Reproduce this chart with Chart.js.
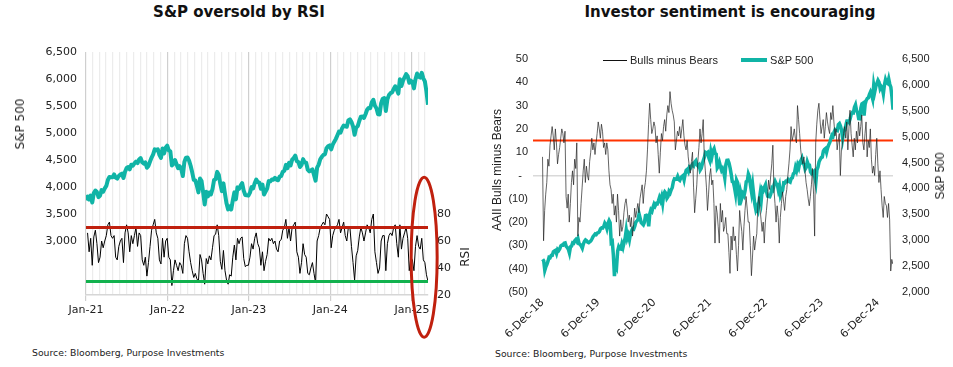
<!DOCTYPE html>
<html>
<head>
<meta charset="utf-8">
<title>S&amp;P oversold by RSI / Investor sentiment</title>
<script src="https://cdn.jsdelivr.net/npm/chart.js@4.4.1/dist/chart.umd.min.js"></script>
<style>
  body { margin:0; background:#fff; width:953px; height:367px; position:relative; overflow:hidden; font-family:'DejaVu Sans', sans-serif; color:#111; }
  canvas { position:absolute; top:0; }
  .title { position:absolute; top:3px; font-weight:bold; font-size:15px; text-align:center; white-space:nowrap; }
  .src { position:absolute; font-size:9.3px; color:#222; white-space:nowrap; }
  .ytitle { position:absolute; transform:translate(-50%,-50%) rotate(-90deg); white-space:nowrap; font-size:12px; color:#222; }
  #legend { position:absolute; left:603px; top:53px; height:14px; display:flex; align-items:center; font:11px 'Liberation Sans', Arial, sans-serif; color:#222; }
  #legend .sw { display:inline-block; }
</style>
</head>
<body>
<div class="title" style="left:0; width:478px;">S&amp;P oversold by RSI</div>
<div class="title" style="left:530px; width:400px;">Investor sentiment is encouraging</div>

<canvas id="rsiChart" width="480" height="345" style="left:0;"></canvas>
<canvas id="sentChart" width="473" height="345" style="left:480px;"></canvas>

<div class="ytitle" style="left:20px; top:124px;">S&amp;P 500</div>
<div class="ytitle" style="left:465px; top:257px;">RSI</div>
<div class="ytitle" style="left:497px; top:170px; font-family:'Liberation Sans', Arial, sans-serif;">AAII Bulls minus Bears</div>
<div class="ytitle" style="left:940px; top:176px; font-family:'Liberation Sans', Arial, sans-serif;">S&amp;P 500</div>

<div id="legend"></div>

<div class="src" style="left:32px; top:347px;">Source: Bloomberg, Purpose Investments</div>
<div class="src" style="left:495px; top:348px;">Source: Bloomberg, Purpose Investments</div>

<script>
'use strict';

// weekly S&P 500 closes, first week ends 7-Dec-18
var spxStart = Date.UTC(2018, 11, 7);
var spx = [
  2633, 2600, 2417, 2486,
  // 2019
  2532, 2596, 2671, 2665, 2707, 2708, 2776, 2793, 2804, 2743, 2822, 2801, 2834,
  2893, 2907, 2905, 2940, 2946, 2881, 2860, 2826, 2752, 2873, 2887, 2950, 2942,
  2990, 3014, 2977, 3026, 2932, 2919, 2889, 2847, 2926, 2979, 3007, 2992, 2962,
  2952, 2970, 2986, 3023, 3067, 3093, 3120, 3110, 3141, 3146, 3169, 3221, 3240,
  // 2020
  3235, 3265, 3330, 3295, 3226, 3328, 3380, 3338, 2954, 2972, 2711, 2305, 2541,
  2489, 2790, 2875, 2837, 2831, 2930, 2864, 2955, 3044, 3194, 3041, 3098, 3009,
  3130, 3185, 3225, 3216, 3271, 3351, 3373, 3397, 3508, 3427, 3341, 3319, 3298,
  3348, 3477, 3484, 3465, 3270, 3509, 3585, 3558, 3638, 3699, 3663, 3709, 3703, 3756,
  // 2021
  3825, 3768, 3841, 3714, 3887, 3934, 3907, 3811, 3842, 3943, 3913, 3975,
  4020, 4129, 4185, 4180, 4181, 4233, 4174, 4156, 4204, 4230, 4247, 4166, 4281,
  4352, 4370, 4327, 4412, 4395, 4437, 4468, 4442, 4509, 4535, 4459, 4433, 4455,
  4357, 4391, 4471, 4545, 4605, 4697, 4683, 4698, 4595, 4538, 4712, 4620, 4726, 4766,
  // 2022
  4677, 4663, 4398, 4432, 4500, 4419, 4349, 4385, 4329, 4204, 4463, 4543,
  4546, 4488, 4393, 4272, 4132, 4123, 4023, 3901, 4158, 4109, 3901, 3675, 3912,
  3825, 3899, 3863, 3962, 4130, 4145, 4280, 4228, 4058, 3924, 4067, 3873, 3693, 3586,
  3640, 3583, 3752, 3901, 3771, 3993, 3965, 4026, 4072, 3934, 3852, 3845, 3840,
  // 2023
  3895, 3999, 3973, 4070, 4136, 4090, 4079, 3970, 4046, 3862, 3917, 3971, 4109,
  4105, 4138, 4133, 4169, 4136, 4124, 4192, 4205, 4282, 4299, 4409, 4348, 4450,
  4399, 4505, 4536, 4582, 4478, 4464, 4370, 4406, 4516, 4457, 4450, 4320, 4288,
  4308, 4327, 4224, 4117, 4358, 4415, 4514, 4559, 4594, 4604, 4719, 4754, 4770,
  // 2024
  4697, 4784, 4840, 4891, 4959, 5027, 5006, 5089, 5137, 5124, 5117, 5234, 5254,
  5204, 5123, 4967, 5100, 5128, 5223, 5303, 5305, 5278, 5347, 5431, 5465, 5460,
  5567, 5615, 5505, 5459, 5346, 5344, 5554, 5634, 5648, 5408, 5626, 5702, 5738,
  5751, 5815, 5864, 5808, 5729, 5995, 5870, 5969, 6032, 6090, 6051, 5931, 5971,
  // 2025
  5942, 5827, 5997, 6101, 6041, 6026, 6115, 6013, 5955, 5770, 5522
];

// AAII bulls minus bears (%), weekly from 6-Dec-18
var sentStart = Date.UTC(2018, 11, 6);
var bullsMinusBears = [
  8, -28, -15, -8, -3, 7, 4, 13, 17, 21,
  17, 11, 20, 14, 5, 9, 12, 16, 20, 18,
  14, 19, -9, -14, -8, -20, -12, -3, 2, -4,
  7, 3, 14, -26, -18, -20, -12, -5, 2, 7,
  -3, 4, 0, -2, 6, 10, 16, 11, 14, 9,
  14, 18, 23, 20, 16, 22, 19, 12, 14, 9,
  14, 11, 2, -4, -6, -12, -8, -17, -13, -20,
  -8, -15, -26, -19, -24, -22, -16, -12, -10, -14,
  -20, -17, -22, -18, -26, -21, -14, -18, -15, -12,
  -16, -10, -7, -4, -12, -6, -3, 2, 11, 22,
  31, 24, 18, 20, 23, 21, 14, 17, 9, 1,
  10, 18, 15, 21, 24, 19, 26, 30, 27, 36,
  31, 28, 26, 23, 11, 15, 19, 17, 21, 16,
  20, 24, 17, 13, 11, 15, 8, 4, 1, 6,
  10, -5, -16, -10, -4, 6, 12, 20, 14, 18,
  24, 8, 2, -5, -15, -8, 0, 3, -4, -2,
  -12, -29, -13, -16, -22, -29, -12, -20, -15, -24,
  -22, -18, -25, -25, -33, -42, -26, -32, -22, -28,
  -26, -34, -41, -30, -15, -20, -24, -32, -22, -15,
  -9, -14, -20, -20, -30, -43, -35, -26, -32, -28,
  -25, -13, -9, -14, -19, -24, -20, -29, -20, -15,
  -10, -2, -6, 0, 5, 13, -6, -12, -20, -13,
  -18, -29, -18, -12, -7, -11, -15, -9, -6, 0,
  5, 11, 21, 15, 17, 20, 16, 14, 30, 24,
  18, 11, 7, 5, 8, 2, -3, -6, -10, -13,
  -9, -4, 3, -8, -26, 14, 22, 28, 31, 24,
  18, 21, 24, 16, 21, 27, 23, 20, 18, 27,
  24, 30, 23, 17, 20, 11, 15, 18, 0, 11,
  14, 18, 21, 16, 23, 11, 20, 28, 18, 13,
  8, 16, 11, 19, 14, 23, 17, 21, 26, 14,
  11, 18, 23, 8, 15, 12, 20, 7, 1, 4,
  0, 9, 16, 5, -3, 2, -6, -13, -18, -9,
  -12, -13, -18, -12, -19, -41, -36, -38
];

// 14 day RSI of the S&P 500, sampled weekly, first value is week ending 8-Jan-21
var rsiFirstWeek = 109; // position of that week in spx
var rsi = [
  // 2021
  66, 52, 62, 42, 63, 68, 58, 44, 48, 60, 55, 60, 64, 72, 74, 64, 62,
  64, 48, 46, 56, 60, 62, 44, 66, 72, 66, 52, 64, 58, 64, 70, 56, 66,
  64, 46, 42, 48, 34, 44, 56, 68, 72, 76, 66, 62, 46, 43, 62, 48, 60, 62,
  // 2022
  48, 46, 27, 38, 46, 42, 38, 44, 42, 36, 58, 64, 62, 52, 44, 38, 33,
  36, 32, 30, 50, 46, 36, 28, 47, 43, 49, 46, 55, 64, 65, 72, 64, 45,
  39, 53, 38, 31, 28, 35, 34, 48, 57, 46, 62, 58, 62, 63, 47, 41, 42, 42,
  // 2023
  48, 58, 54, 62, 66, 58, 55, 42, 52, 38, 45, 50, 62, 60, 62, 58, 60,
  54, 52, 60, 61, 68, 70, 76, 62, 70, 60, 70, 72, 74, 52, 48, 36, 44,
  58, 50, 48, 36, 35, 40, 44, 36, 29, 60, 64, 70, 72, 74, 72, 80, 78, 76,
  // 2024
  55, 64, 68, 70, 72, 76, 66, 70, 74, 64, 60, 70, 70, 56, 44, 31, 49,
  53, 63, 70, 66, 60, 66, 72, 70, 66, 76, 80, 52, 44, 36, 40, 60, 64, 64,
  38, 58, 64, 66, 64, 70, 72, 58, 48, 72, 54, 62, 66, 70, 62, 38, 48,
  // 2025
  46, 38, 56, 64, 56, 54, 62, 46, 44, 35, 30
];

var overbought = 70;
var oversold = 30;
var sentimentMark = 15;

var leftXLabels = ['Jan-21', 'Jan-22', 'Jan-23', 'Jan-24', 'Jan-25'];
var rightXLabels = ['6-Dec-18', '6-Dec-19', '6-Dec-20', '6-Dec-21', '6-Dec-22', '6-Dec-23', '6-Dec-24'];

// colours
var TEAL = '#10b4a6';
var DARK_RED = '#c0200e';
var GREEN = '#12b14e';
var ORANGE_RED = '#ff3300';

var DAY = 86400000;
var leftOrigin = Date.UTC(2021, 0, 1);
function weekDate(start, i){
  return start + i * 7 * DAY;
}
function toMonths(t){
  return (t - leftOrigin) / (DAY * 30.4375);
}
function toYears(t){
  return (t - sentStart) / (DAY * 365.25);
}
function commas(v){
  return String(v).replace(/\B(?=(\d{3})+(?!\d))/g, ',');
}

Chart.defaults.font.family = "'DejaVu Sans', sans-serif";
Chart.defaults.color = '#222';

// ---------- left chart: S&P with RSI ----------
var spxLeft = [];
for (var i = rsiFirstWeek - 1; i < spx.length; i++){
  spxLeft.push({x: toMonths(weekDate(spxStart, i)), y: spx[i]});
}
var rsiPts = [];
for (var j = 0; j < rsi.length; j++){
  rsiPts.push({x: toMonths(weekDate(spxStart, rsiFirstWeek + j)), y: rsi[j]});
}
var leftMax = spxLeft[spxLeft.length - 1].x;

var monthTicks = [];
for (var m = 0; toMonths(Date.UTC(2021, m, 1)) <= leftMax; m++){
  monthTicks.push({value: toMonths(Date.UTC(2021, m, 1))});
}

// red ellipse round the latest RSI reading
var ellipsePlugin = {
  id: 'rsiEllipse',
  afterDraw: function(chart){
    var c = chart.ctx;
    var cx = chart.scales.x.getPixelForValue(49.8);
    var cy = chart.scales.yRsi.getPixelForValue(48);
    c.save();
    c.beginPath();
    c.ellipse(cx, cy, 13, 80, 0, 0, Math.PI * 2);
    c.strokeStyle = DARK_RED;
    c.lineWidth = 3;
    c.stroke();
    c.restore();
  }
};

new Chart(document.getElementById('rsiChart'), {
  type: 'line',
  data: {
    datasets: [
      {label: 'Overbought', data: [{x: 0, y: overbought}, {x: leftMax, y: overbought}], yAxisID: 'yRsi', borderColor: DARK_RED, borderWidth: 3},
      {label: 'Oversold', data: [{x: 0, y: oversold}, {x: leftMax, y: oversold}], yAxisID: 'yRsi', borderColor: GREEN, borderWidth: 3},
      {label: 'S&P 500', data: spxLeft, yAxisID: 'ySpx', borderColor: TEAL, borderWidth: 4},
      {label: 'RSI', data: rsiPts, yAxisID: 'yRsi', borderColor: '#000', borderWidth: 1}
    ]
  },
  options: {
    responsive: false,
    animation: false,
    elements: {point: {radius: 0}, line: {tension: 0, borderJoinStyle: 'round'}},
    layout: {padding: {left: 0, right: 0, top: 52, bottom: 0}},
    plugins: {legend: {display: false}, tooltip: {enabled: false}},
    scales: {
      x: {
        type: 'linear', min: 0, max: leftMax,
        afterBuildTicks: function(s){ s.ticks = monthTicks.slice(); },
        afterFit: function(s){ s.height = 50; },
        ticks: {
          autoSkip: false, maxRotation: 0, padding: 3, font: {size: 11},
          callback: function(v, idx){ return idx % 12 === 0 ? leftXLabels[idx / 12] : ''; }
        },
        grid: {
          color: function(ctx){ return ctx.index % 12 === 0 ? '#cfcfcf' : '#ececec'; },
          tickColor: function(ctx){ return ctx.index % 12 === 0 ? '#cfcfcf' : 'rgba(0,0,0,0)'; },
          tickLength: 6, lineWidth: 1.2
        },
        border: {color: '#d6d6d6', width: 1.5}
      },
      ySpx: {
        position: 'left', min: 2000, max: 6500,
        afterFit: function(s){ s.width = 86; },
        ticks: {stepSize: 500, padding: 9, font: {size: 11},
          callback: function(v){ return v >= 3000 ? commas(v) : ''; }},
        grid: {display: false, drawTicks: false},
        border: {display: false}
      },
      yRsi: {
        position: 'right', min: 20, max: 200,
        afterFit: function(s){ s.width = 52; },
        ticks: {stepSize: 20, padding: 9, font: {size: 11},
          callback: function(v){ return v <= 80 ? String(v) : ''; }},
        grid: {display: false, drawTicks: false},
        border: {display: false}
      }
    }
  },
  plugins: [ellipsePlugin]
});

// ---------- right chart: AAII sentiment vs S&P ----------
var sentPts = bullsMinusBears.map(function(v, k){
  return {x: toYears(weekDate(sentStart, k)), y: v};
});
var spxRight = spx.map(function(v, k){
  return {x: toYears(weekDate(spxStart, k)), y: v};
});
var rightMax = spxRight[spxRight.length - 1].x;
var rightMin = -0.17;
var yearTicks = rightXLabels.map(function(lbl, k){
  return {value: toYears(Date.UTC(2018 + k, 11, 6))};
});

new Chart(document.getElementById('sentChart'), {
  type: 'line',
  data: {
    datasets: [
      {label: 'Bulls minus Bears', data: sentPts, yAxisID: 'ySent', borderColor: '#222', borderWidth: 0.7},
      {label: 'S&P 500', data: spxRight, yAxisID: 'ySpx', borderColor: TEAL, borderWidth: 3.5},
      {label: 'Threshold', data: [{x: rightMin, y: sentimentMark}, {x: rightMax, y: sentimentMark}], yAxisID: 'ySent', borderColor: ORANGE_RED, borderWidth: 2}
    ]
  },
  options: {
    responsive: false,
    animation: false,
    elements: {point: {radius: 0}, line: {tension: 0}},
    layout: {padding: {left: 0, right: 0, top: 59, bottom: 0}},
    plugins: {legend: {display: false}, tooltip: {enabled: false}},
    scales: {
      x: {
        type: 'linear', min: rightMin, max: rightMax,
        afterBuildTicks: function(s){ s.ticks = yearTicks.slice(); },
        afterFit: function(s){ s.height = 53; },
        ticks: {
          autoSkip: false, minRotation: 45, maxRotation: 45, padding: 4, font: {size: 11},
          callback: function(v, idx){ return rightXLabels[idx]; }
        },
        grid: {display: false, drawTicks: false},
        border: {display: false}
      },
      ySent: {
        position: 'left', min: -50, max: 50,
        afterFit: function(s){ s.width = 53; },
        ticks: {stepSize: 10, padding: 5, font: {family: "'Liberation Sans', Arial, sans-serif", size: 11},
          callback: function(v){ return v === 0 ? '-  ' : (v < 0 ? '(' + (-v) + ')' : String(v)); }},
        grid: {
          drawTicks: false, lineWidth: 1.5,
          color: function(ctx){ return ctx.tick && ctx.tick.value === 0 ? '#d9d9d9' : 'rgba(0,0,0,0)'; }
        },
        border: {display: false}
      },
      ySpx: {
        position: 'right', min: 2000, max: 6500,
        afterFit: function(s){ s.width = 60; },
        ticks: {stepSize: 500, padding: 9, font: {family: "'Liberation Sans', Arial, sans-serif", size: 11},
          callback: function(v){ return commas(v); }},
        grid: {display: false, drawTicks: false},
        border: {display: false}
      }
    }
  }
});

// html legend for the right chart
var legendItems = [
  {text: 'Bulls minus Bears', color: '#111', w: 24, h: 1, gap: 0},
  {text: 'S&P 500', color: TEAL, w: 26, h: 4, gap: 23}
];
var legend = document.getElementById('legend');
legendItems.forEach(function(it){
  var sw = document.createElement('span');
  sw.className = 'sw';
  sw.style.width = it.w + 'px';
  sw.style.height = it.h + 'px';
  sw.style.background = it.color;
  sw.style.marginLeft = it.gap + 'px';
  var tx = document.createElement('span');
  tx.textContent = it.text;
  tx.style.marginLeft = '3px';
  legend.appendChild(sw);
  legend.appendChild(tx);
});
</script>
</body>
</html>
